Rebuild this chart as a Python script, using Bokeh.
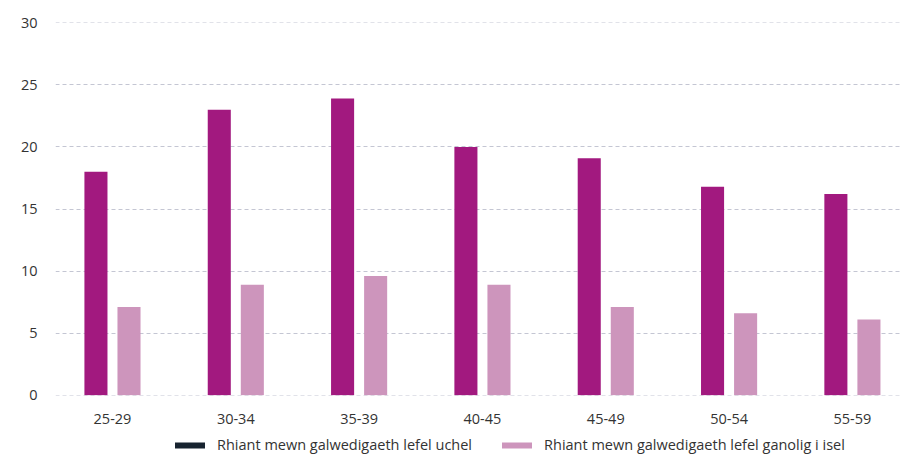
from bokeh.plotting import figure
from bokeh.layouts import column
from bokeh.models import ColumnDataSource, Range1d, FixedTicker, Legend, LegendItem
from bokeh.embed import file_html
from bokeh.resources import INLINE

categories = ["25-29", "30-34", "35-39", "40-45", "45-49", "50-54", "55-59"]
high_level = [18, 23, 23.9, 20, 19.1, 16.8, 16.2]
mid_low_level = [7.1, 8.9, 9.6, 8.9, 7.1, 6.6, 6.1]
series_names = ["Rhiant mewn galwedigaeth lefel uchel",
                "Rhiant mewn galwedigaeth lefel ganolig i isel"]
y_ticks = [0, 5, 10, 15, 20, 25, 30]

DARK = "#a2197f"
LIGHT = "#cd95bc"
LEGEND_DARK = "#17232f"
FONT = "Open Sans"
FS = "14.5px"

idx = list(range(len(categories)))
src = ColumnDataSource(dict(
    x1=[i - 0.134 for i in idx],
    x2=[i + 0.134 for i in idx],
    high=high_level,
    low=mid_low_level,
))

p = figure(width=907, height=426, output_backend="svg", toolbar_location=None,
           x_range=Range1d(-0.462, 6.39), y_range=Range1d(-0.03, 30.03))
p.min_border_left = 55
p.min_border_right = 7
p.min_border_top = 22
p.min_border_bottom = 28
p.outline_line_color = None

p.vbar(x="x1", top="high", bottom=0, width=0.187, source=src,
       fill_color=DARK, line_color=None)
p.vbar(x="x2", top="low", bottom=0, width=0.187, source=src,
       fill_color=LIGHT, line_color=None)

p.xaxis.ticker = FixedTicker(ticks=idx)
p.xaxis.major_label_overrides = {i: c for i, c in zip(idx, categories)}
p.xaxis.axis_line_color = None
p.xaxis.major_tick_line_color = None
p.xaxis.minor_tick_line_color = None
p.xaxis.major_label_text_font = FONT
p.xaxis.major_label_text_font_size = FS
p.xaxis.major_label_text_color = "#333333"
p.xaxis.major_label_standoff = 12

p.yaxis.ticker = FixedTicker(ticks=y_ticks)
p.yaxis.axis_line_color = None
p.yaxis.major_tick_line_color = None
p.yaxis.minor_tick_line_color = None
p.yaxis.major_label_text_font = FONT
p.yaxis.major_label_text_font_size = FS
p.yaxis.major_label_text_color = "#333333"
p.yaxis.major_label_standoff = 12

p.xgrid.grid_line_color = None
p.ygrid.grid_line_color = "#c4c6d3"
p.ygrid.grid_line_dash = "4 3"
p.ygrid.grid_line_width = 1

# legend in a thin figure below
lg = figure(width=907, height=28, output_backend="svg", toolbar_location=None,
            x_axis_type=None, y_axis_type=None,
            x_range=Range1d(0, 1), y_range=Range1d(0, 1))
lg.min_border = 0
lg.outline_line_color = None
lg.xgrid.grid_line_color = None
lg.ygrid.grid_line_color = None
nan = float("nan")
lsrc = ColumnDataSource(dict(x=[0, 1], y=[nan, nan]))
r1 = lg.line(x="x", y="y", source=lsrc, line_color=LEGEND_DARK, line_width=6, line_cap="round")
r2 = lg.line(x="x", y="y", source=lsrc, line_color=LIGHT, line_width=6, line_cap="round")
legend = Legend(items=[LegendItem(label=series_names[0], renderers=[r1]),
                       LegendItem(label=series_names[1], renderers=[r2])],
                orientation="horizontal", location=(120, 0),
                label_text_font=FONT, label_text_font_size=FS,
                label_text_color="#333333", glyph_width=30, glyph_height=16,
                label_standoff=12, spacing=30, padding=0, margin=0,
                border_line_color=None, background_fill_alpha=0)
lg.add_layout(legend, "center")

layout = column(p, lg, spacing=0)
open("out.html", "w").write(file_html(layout, INLINE))
